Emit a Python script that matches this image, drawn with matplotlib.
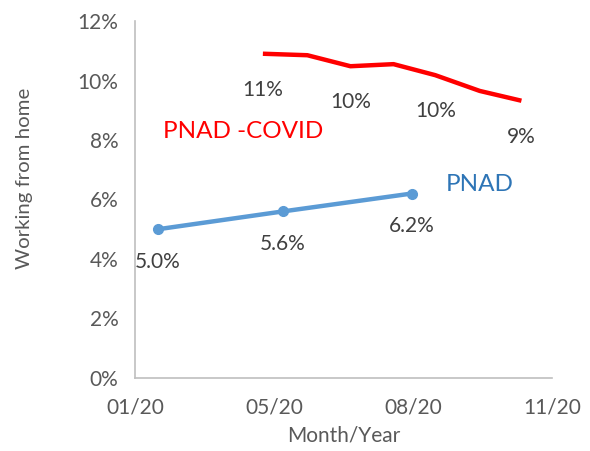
import matplotlib.pyplot as plt

# dados
x_ticks = [0, 1, 2, 3]
x_labels = ['01/20', '05/20', '08/20', '11/20']

pnad_x = [0.165, 1.065, 1.99]
pnad_y = [5.0, 5.6, 6.2]
pnad_labels = ['5.0%', '5.6%', '6.2%']

covid_x = [0.92, 1.24, 1.55, 1.86, 2.16, 2.48, 2.78]
covid_y = [10.9, 10.85, 10.48, 10.55, 10.18, 9.65, 9.32]
covid_labels = ['11%', '', '10%', '', '10%', '', '9%']

cinza = '#595959'
plt.rcParams['font.family'] = ['Lato', 'DejaVu Sans']

fig = plt.figure(figsize=(5.9, 4.51), dpi=100)
ax = fig.add_axes([0.2288, 0.1619, 0.7068, 0.7915])

ax.plot(covid_x, covid_y, color='#FF0000', lw=3.2, solid_capstyle='butt')
ax.plot(pnad_x, pnad_y, color='#5B9BD5', lw=3.2, marker='o', markersize=7)

for x, y, t in zip(covid_x, covid_y, covid_labels):
    if t:
        ax.annotate(t, (x, y), xytext=(0, -26), textcoords='offset points',
                    ha='center', va='center', fontsize=15, color='#404040')
for x, y, t in zip(pnad_x, pnad_y, pnad_labels):
    ax.annotate(t, (x, y), xytext=(0, -23.5), textcoords='offset points',
                ha='center', va='center', fontsize=15, color='#404040')

ax.text(0.2, 8.3, 'PNAD -COVID', color='#FF0000', fontsize=17.5, ha='left', va='center')
ax.text(2.48, 6.5, 'PNAD', color='#2E75B6', fontsize=17.5, ha='center', va='center')

ax.set_xlim(0, 3)
ax.set_ylim(0, 12)
ax.set_xticks(x_ticks)
ax.set_xticklabels(x_labels)
ax.set_yticks(range(0, 13, 2))
ax.set_yticklabels([f'{v}%' for v in range(0, 13, 2)])
ax.tick_params(length=0, labelsize=15, labelcolor=cinza)
ax.tick_params(axis='x', pad=14)
ax.tick_params(axis='y', pad=12)

for s in ['top', 'right']:
    ax.spines[s].set_visible(False)
for s in ['left', 'bottom']:
    ax.spines[s].set_color('#BFBFBF')
    ax.spines[s].set_linewidth(1.2)

ax.set_xlabel('Month/Year', fontsize=15, color=cinza, labelpad=6)
fig.text(0.042, 0.605, 'Working from home', rotation=90, fontsize=14.7,
         color=cinza, ha='center', va='center')

fig.savefig('out.png', dpi=100)
